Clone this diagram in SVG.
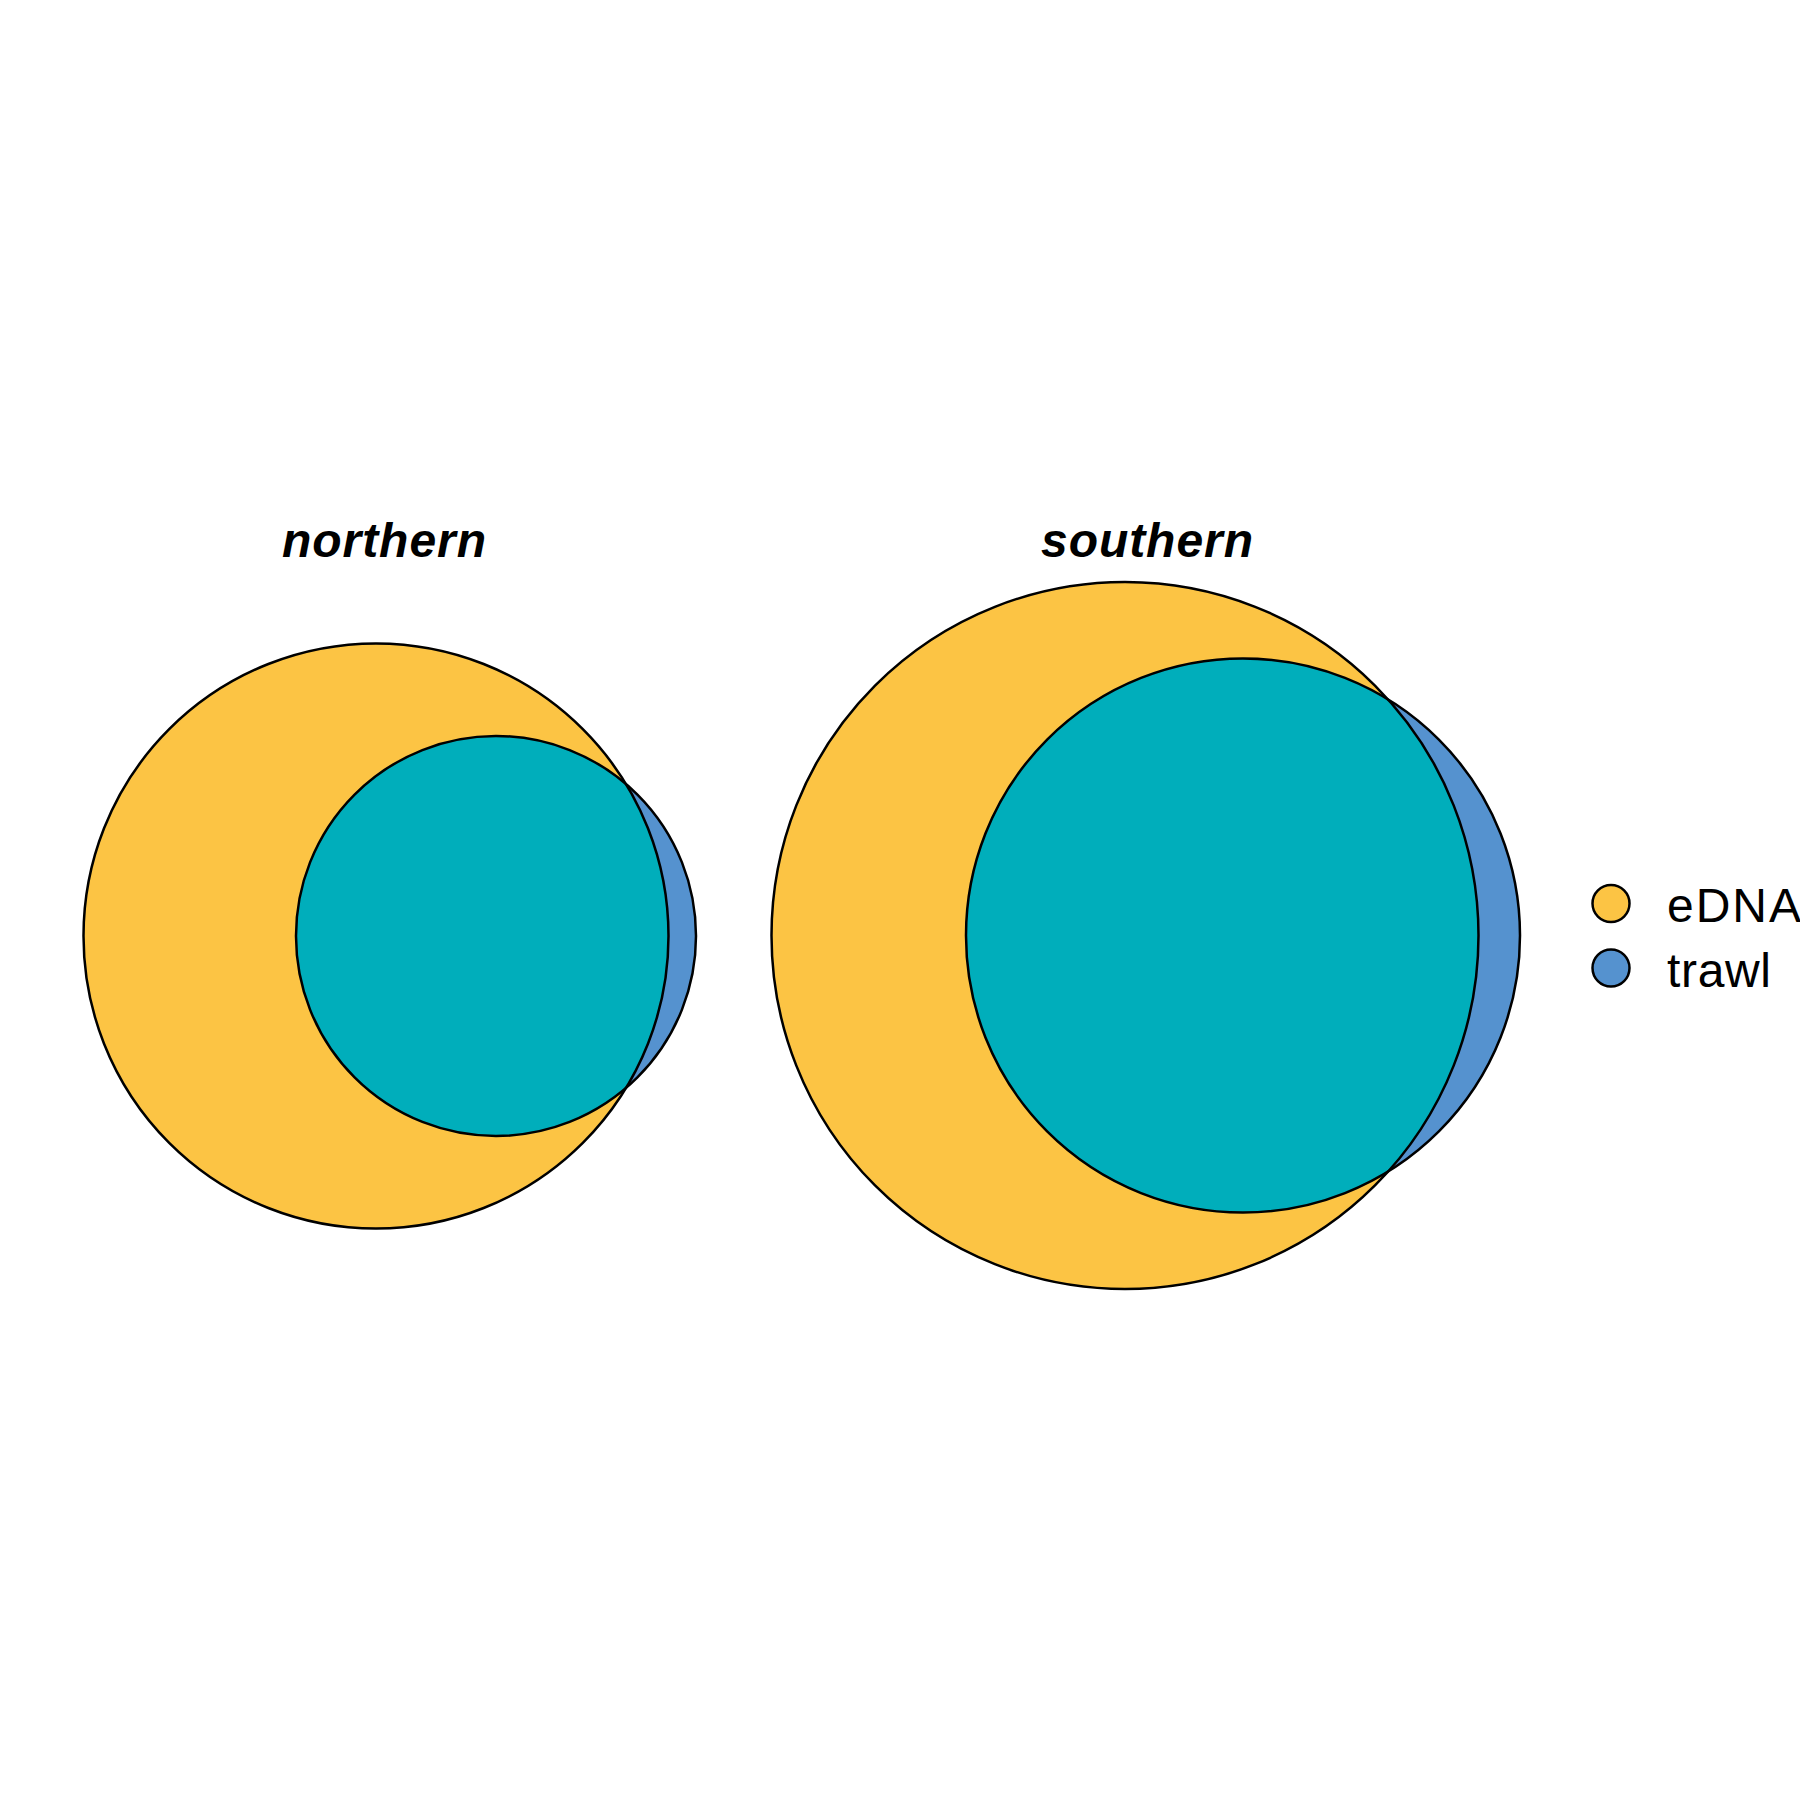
<svg xmlns="http://www.w3.org/2000/svg" width="1800" height="1800" viewBox="0 0 1800 1800">
<style>
.edna{fill:#FCC444}
.trawl{fill:#5592CF}
.both{fill:#00AEBB}
.outline{fill:none;stroke:#000;stroke-width:2.5}
.title{font-family:"Liberation Sans",Arial,sans-serif;font-weight:bold;font-style:italic;font-size:48px;text-anchor:middle;fill:#000}
.leg{font-family:"Liberation Sans",Arial,sans-serif;font-size:48px;fill:#000}
</style>
<defs>
<clipPath id="clipN"><circle cx="376" cy="936" r="292.5"/></clipPath>
<clipPath id="clipS"><circle cx="1125" cy="935.5" r="353.5"/></clipPath>
</defs>
<rect width="1800" height="1800" fill="#fff"/>
<g id="northern">
<text class="title" x="384" y="557" textLength="204" lengthAdjust="spacing">northern</text>
<circle class="edna" cx="376" cy="936" r="292.5"/>
<circle class="trawl" cx="496" cy="936" r="200"/>
<circle class="both" cx="496" cy="936" r="200" clip-path="url(#clipN)"/>
<circle class="outline" cx="376" cy="936" r="292.5"/>
<circle class="outline" cx="496" cy="936" r="200"/>
</g>
<g id="southern">
<text class="title" x="1147" y="557" textLength="212" lengthAdjust="spacing">southern</text>
<circle class="edna" cx="1125" cy="935.5" r="353.5"/>
<circle class="trawl" cx="1243" cy="935.5" r="277"/>
<circle class="both" cx="1243" cy="935.5" r="277" clip-path="url(#clipS)"/>
<circle class="outline" cx="1125" cy="935.5" r="353.5"/>
<circle class="outline" cx="1243" cy="935.5" r="277"/>
</g>
<g id="legend">
<circle class="edna" cx="1611" cy="903.5" r="18.5" stroke="#000" stroke-width="2.5"/>
<text class="leg" x="1667" y="922" textLength="134" lengthAdjust="spacing">eDNA</text>
<circle class="trawl" cx="1611" cy="968" r="18.5" stroke="#000" stroke-width="2.5"/>
<text class="leg" x="1667" y="987" textLength="104" lengthAdjust="spacing">trawl</text>
</g>
<g id="connectors"></g>
</svg>
